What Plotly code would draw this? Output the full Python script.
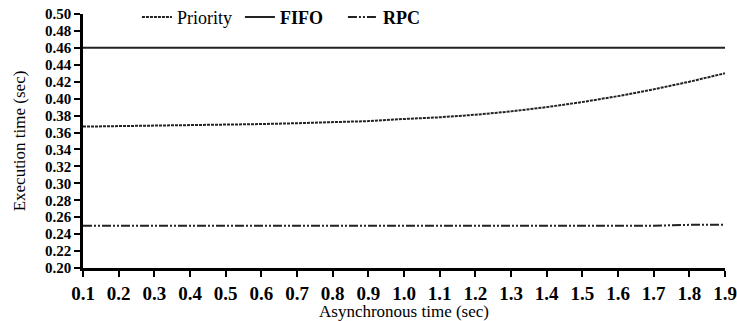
import plotly.graph_objects as go

async_time = [0.1, 0.2, 0.3, 0.4, 0.5, 0.6, 0.7, 0.8, 0.9, 1.0,
              1.1, 1.2, 1.3, 1.4, 1.5, 1.6, 1.7, 1.8, 1.9]
priority = [0.367, 0.3675, 0.368, 0.3685, 0.369, 0.370, 0.371, 0.372, 0.3735, 0.376,
            0.378, 0.381, 0.385, 0.390, 0.396, 0.403, 0.411, 0.420, 0.430]
fifo = [0.46] * 19
rpc = [0.25, 0.25, 0.25, 0.25, 0.25, 0.25, 0.25, 0.25, 0.25, 0.25,
       0.25, 0.25, 0.25, 0.25, 0.25, 0.25, 0.25, 0.251, 0.251]

y_ticks = [0.20, 0.22, 0.24, 0.26, 0.28, 0.30, 0.32, 0.34, 0.36, 0.38,
           0.40, 0.42, 0.44, 0.46, 0.48, 0.50]
x_ticks = async_time

FONT = "Liberation Serif, Times New Roman, serif"

fig = go.Figure()
fig.add_trace(go.Scatter(x=async_time, y=priority, mode="lines", name="Priority",
                         line=dict(color="#222", width=2, dash="3px,1px")))
fig.add_trace(go.Scatter(x=async_time, y=fifo, mode="lines", name="<b>FIFO</b>",
                         line=dict(color="#222", width=2)))
fig.add_trace(go.Scatter(x=async_time, y=rpc, mode="lines", name="<b>RPC</b>",
                         line=dict(color="#222", width=2, dash="9px,2px,2px,2px,2px,2px")))

fig.update_layout(
    width=737, height=321,
    margin=dict(l=83, r=12, t=14, b=53, autoexpand=False),
    paper_bgcolor="white", plot_bgcolor="white",
    font=dict(family=FONT, color="black"),
    showlegend=True,
    legend=dict(orientation="h", x=0.084, y=1.06, xanchor="left", yanchor="top",
                bgcolor="rgba(0,0,0,0)", font=dict(size=18, family=FONT),
                itemwidth=30, tracegroupgap=0,
                entrywidth=58, entrywidthmode="pixels"),
    xaxis=dict(range=[0.1, 1.9], tickvals=x_ticks,
               ticktext=[f"{v:.1f}" for v in x_ticks],
               showgrid=False, zeroline=False, automargin=False,
               showline=True, linecolor="black", linewidth=2.5,
               ticks="outside", ticklen=6, tickwidth=2, tickcolor="black",
               tickfont=dict(size=19, family=FONT, weight="bold"),
               title=dict(text="Asynchronous time (sec)", font=dict(size=17, family=FONT),
                          standoff=4)),
    yaxis=dict(range=[0.20, 0.50], tickvals=y_ticks,
               ticktext=[f"{v:.2f}" for v in y_ticks],
               showgrid=False, zeroline=False, automargin=False,
               showline=True, linecolor="black", linewidth=2.5,
               ticks="outside", ticklen=6, tickwidth=2, tickcolor="black",
               tickfont=dict(size=15, family=FONT, weight="bold"),
               title=dict(text="Execution time (sec)", font=dict(size=17, family=FONT),
                          standoff=16)),
)

fig.write_html("out.html")
